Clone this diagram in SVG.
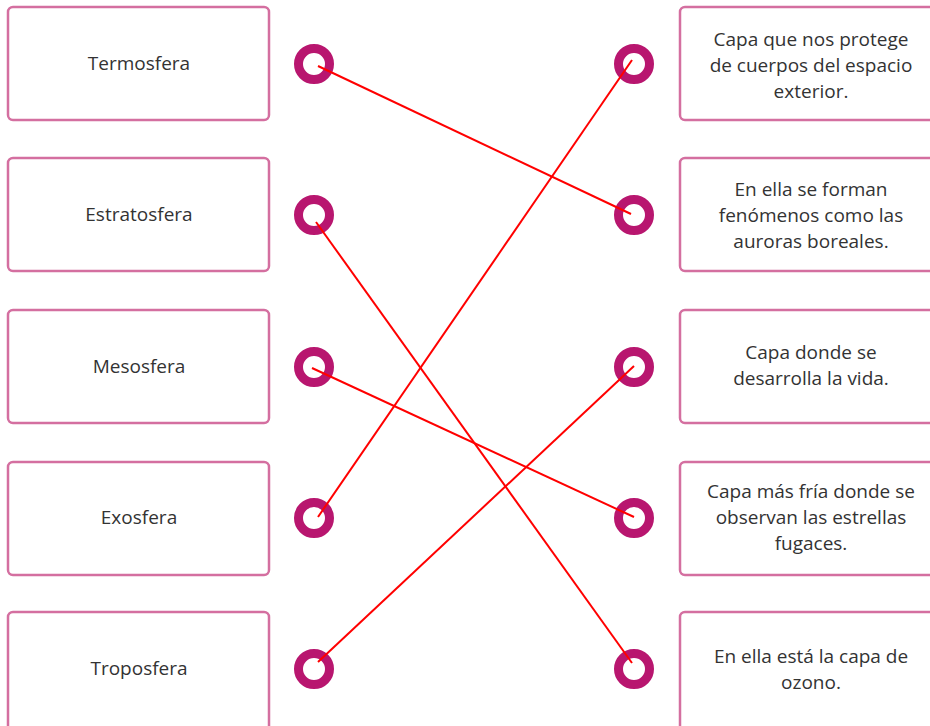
<svg xmlns="http://www.w3.org/2000/svg" width="930" height="726" viewBox="0 0 930 726">
<style>
.box{fill:#fff;stroke:#d46fa0;stroke-width:2.5}
.dot{fill:none;stroke:#b8166f;stroke-width:9}
.t{font-family:"Open Sans","Noto Sans",sans-serif;font-size:19px;fill:#333;text-anchor:middle}
.ln{stroke:#ff0000;stroke-width:2;fill:none}
</style>
<rect width="930" height="726" fill="#fff"/>
<g id="termosfera"><rect class="box" x="8" y="7" width="261" height="113" rx="5"/><text class="t" x="139" y="70">Termosfera</text></g>
<g id="estratosfera"><rect class="box" x="8" y="158" width="261" height="113" rx="5"/><text class="t" x="139" y="221">Estratosfera</text></g>
<g id="mesosfera"><rect class="box" x="8" y="310" width="261" height="113" rx="5"/><text class="t" x="139" y="373">Mesosfera</text></g>
<g id="exosfera"><rect class="box" x="8" y="462" width="261" height="113" rx="5"/><text class="t" x="139" y="524">Exosfera</text></g>
<g id="troposfera"><rect class="box" x="8" y="612" width="261" height="120" rx="5"/><text class="t" x="139" y="675">Troposfera</text></g>
<g id="l1"><circle class="dot" cx="314" cy="64" r="15.5"/></g>
<g id="l2"><circle class="dot" cx="314" cy="215" r="15.5"/></g>
<g id="l3"><circle class="dot" cx="314" cy="367" r="15.5"/></g>
<g id="l4"><circle class="dot" cx="314" cy="518" r="15.5"/></g>
<g id="l5"><circle class="dot" cx="314" cy="669" r="15.5"/></g>
<g id="r1"><circle class="dot" cx="634" cy="64" r="15.5"/></g>
<g id="r2"><circle class="dot" cx="634" cy="215" r="15.5"/></g>
<g id="r3"><circle class="dot" cx="634" cy="367" r="15.5"/></g>
<g id="r4"><circle class="dot" cx="634" cy="518" r="15.5"/></g>
<g id="r5"><circle class="dot" cx="634" cy="669" r="15.5"/></g>
<g id="d1"><rect class="box" x="680" y="7" width="262" height="113" rx="5"/><text class="t" x="811"><tspan x="811" y="46">Capa que nos protege</tspan><tspan x="811" y="72">de cuerpos del espacio</tspan><tspan x="811" y="98">exterior.</tspan></text></g>
<g id="d2"><rect class="box" x="680" y="158" width="262" height="113" rx="5"/><text class="t" x="811"><tspan x="811" y="196">En ella se forman</tspan><tspan x="811" y="222">fenómenos como las</tspan><tspan x="811" y="248">auroras boreales.</tspan></text></g>
<g id="d3"><rect class="box" x="680" y="310" width="262" height="113" rx="5"/><text class="t" x="811"><tspan x="811" y="359">Capa donde se</tspan><tspan x="811" y="385">desarrolla la vida.</tspan></text></g>
<g id="d4"><rect class="box" x="680" y="462" width="262" height="113" rx="5"/><text class="t" x="811"><tspan x="811" y="498">Capa más fría donde se</tspan><tspan x="811" y="524">observan las estrellas</tspan><tspan x="811" y="550">fugaces.</tspan></text></g>
<g id="d5"><rect class="box" x="680" y="612" width="262" height="120" rx="5"/><text class="t" x="811"><tspan x="811" y="663">En ella está la capa de</tspan><tspan x="811" y="689">ozono.</tspan></text></g>
<g id="connectors">
<line class="ln" x1="318" y1="66" x2="631" y2="214"/>
<line class="ln" x1="316" y1="222" x2="632" y2="663"/>
<line class="ln" x1="312" y1="368" x2="634" y2="517"/>
<line class="ln" x1="318" y1="517" x2="632" y2="60"/>
<line class="ln" x1="318" y1="662" x2="634" y2="366"/>
</g>
</svg>
